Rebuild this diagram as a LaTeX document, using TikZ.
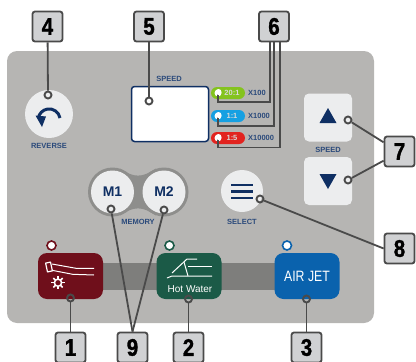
\documentclass[tikz,border=0pt]{standalone}
\usepackage{xcolor}
\usepackage{fontspec}
\setmainfont{Liberation Sans}
\newfontfamily\tagfont[FakeBold=1.6]{Liberation Sans Bold}
\usetikzlibrary{shapes, calc, positioning}
\definecolor{panelgrey}{HTML}{B6B5B3}
\definecolor{bargrey}{HTML}{7E7E7C}
\definecolor{ringgrey}{HTML}{8E8E8C}
\definecolor{keywhite}{HTML}{ECEDEE}
\definecolor{tagfill}{HTML}{D0D1D3}
\definecolor{wiredark}{HTML}{4A4A4A}
\definecolor{inkblue}{HTML}{0F2F63}
\definecolor{labelblue}{HTML}{2B4A7B}
\definecolor{handred}{HTML}{6F0F1B}
\definecolor{waterteal}{HTML}{1B5A47}
\definecolor{airblue}{HTML}{0A62AD}
\definecolor{pillgreen}{HTML}{84C31E}
\definecolor{pillblue}{HTML}{16A0E2}
\definecolor{pillred}{HTML}{E2231F}
\tikzset{
  tagbox/.style={draw=wiredark, fill=tagfill, line width=1.8pt, rounded corners=2.5pt, minimum size=30pt, inner sep=0pt, font=\fontsize{24}{24}\tagfont},
  port/.style={draw=wiredark, circle, line width=1.9pt, minimum size=7pt, inner sep=0pt},
  wire/.style={draw=wiredark, line width=1.8pt},
  small/.style={text=labelblue, inner sep=0pt, font=\fontsize{7.5}{9}\selectfont\bfseries},
  lamp/.style={circle, fill=white, line width=1.6pt, minimum size=9pt, inner sep=0pt},
  key/.style={fill=keywhite, minimum size=48pt, rounded corners=5pt, inner sep=0pt},
  roundkey/.style={circle, fill=keywhite, inner sep=0pt},
  handkey/.style={minimum width=65pt, minimum height=46pt, rounded corners=9pt, inner sep=0pt},
  pill/.style={minimum width=34pt, minimum height=12pt, rounded corners=6pt, inner sep=0pt, text=white!85!black, font=\fontsize{7.5}{9}\selectfont\bfseries},
  dot/.style={circle, fill=white, minimum size=7pt, inner sep=0pt},
  icon/.style={draw=white, line width=1pt, line join=round}
}
\newcommand{\tagnum}[1]{\scalebox{0.85}[1]{#1}}
\begin{document}
\begin{tikzpicture}[x=1pt, y=-1pt]
        \useasboundingbox (0, 0) rectangle (416, 362);
        \fill [panelgrey, rounded corners=10pt] (7, 51) rectangle (374, 323);

        % bottom row
        \fill [bargrey] (100, 263) rectangle (280, 290);
        \node [handkey, fill=handred] (KH) at (70.5, 276) {};
        \node [handkey, fill=waterteal] (KW) at (189, 276) {};
        \node [handkey, fill=airblue, text=white, font=\fontsize{15}{18}\selectfont] (KA) at (307, 276) {\scalebox{0.82}[1]{AIR JET}};
        \node [text=white, inner sep=0pt, font=\fontsize{10}{12}\selectfont] at (190, 289) {Hot Water};
        \node [lamp, draw=handred] (LH) at (51.5, 245.5) {};
        \node [lamp, draw=waterteal] (LW) at (169.5, 245.5) {};
        \node [lamp, draw=airblue] (LA) at (287, 245.5) {};

        % handpiece icon
        \draw [icon, line width=1.2pt, rotate around={12:(49, 267)}] (46.5, 262.5) rectangle (51.5, 271.5);
        \draw [icon] (52, 264) -- (76, 268.3) -- (94, 268.3);
        \draw [icon] (52, 270.3) -- (72.7, 274.3) -- (94, 275);
        \draw [icon, line width=1.5pt] (58, 282.7) circle (3.6);
        \foreach \a in {0, 45, ..., 315}
            \draw [icon, line width=1.5pt] ($(58, 282.7)+(\a:3.6)$) -- ($(58, 282.7)+(\a:6.6)$);

        % water icon
        \draw [icon] (167, 278) -- (172, 276) -- (212, 276);
        \draw [icon] (172, 273) -- (187, 259) -- (197, 259);
        \draw [icon] (184, 262) -- (188, 276);
        \draw [icon] (188, 266) -- (212, 266);

        % reverse
        \node [roundkey, minimum size=48pt] (KR) at (49, 114) {};
        \node [small] at (49, 146) {REVERSE};
        \draw [draw=inkblue, line width=3pt] (60, 118) arc [start angle=-10, end angle=-172, radius=11];
        \fill [inkblue] (35.5, 115.5) -- (46, 116.5) -- (42, 127) -- cycle;

        % display
        \node [small] at (169, 79) {SPEED};
        \node [draw=inkblue, fill=white, line width=1.5pt, rounded corners=3pt, minimum width=77pt, minimum height=55pt, inner sep=0pt] (DS) at (170, 114) {};

        % ratio pills
        \node [pill, fill=pillgreen] (R1) at (228, 93) {\hspace{8pt}20:1};
        \node [pill, fill=pillblue] (R2) at (228, 116) {\hspace{8pt}1:1};
        \node [pill, fill=pillred] (R3) at (228, 138) {\hspace{8pt}1:5};
        \node [small, anchor=west] at (248, 93) {X100};
        \node [small, anchor=west] at (248, 116) {X1000};
        \node [small, anchor=west] at (248, 138) {X10000};

        % speed keys
        \node [key] (KU) at (328, 117.5) {};
        \node [key] (KD) at (328, 181) {};
        \node [small] at (328, 150) {SPEED};
        \fill [inkblue] (328, 108) -- (336.5, 123) -- (319.5, 123) -- cycle;
        \fill [inkblue] (328, 189) -- (336.5, 174) -- (319.5, 174) -- cycle;

        % memory keys
        \fill [ringgrey] (120, 168.5) .. controls (134, 178) and (142, 178) .. (156, 168.5)
            -- (156, 215.5) .. controls (142, 206) and (134, 206) .. (120, 215.5) -- cycle;
        \node [roundkey, fill=ringgrey, minimum size=49pt] at (112.5, 192) {};
        \node [roundkey, fill=ringgrey, minimum size=49pt] at (164, 192) {};
        \node [roundkey, minimum size=43pt, text=inkblue, font=\fontsize{14}{16}\selectfont\bfseries] (M1) at (112.5, 192) {M1};
        \node [roundkey, minimum size=43pt, text=inkblue, font=\fontsize{14}{16}\selectfont\bfseries] (M2) at (164, 192) {M2};
        \node [small] at (138, 222) {MEMORY};

        % select
        \node [roundkey, minimum size=42pt] (KS) at (242, 191) {};
        \node [small] at (242, 222) {SELECT};
        \draw [draw=inkblue, line width=2.5pt] (231, 185) -- (253, 185);
        \draw [draw=inkblue, line width=2.5pt] (231, 191.5) -- (253, 191.5);
        \draw [draw=inkblue, line width=2.5pt] (231, 198) -- (253, 198);

        % numbered tags
        \node [tagbox] (T1) at (70.5, 347.5) {\tagnum{1}};
        \node [tagbox] (T2) at (188.5, 347.5) {\tagnum{2}};
        \node [tagbox] (T3) at (306.5, 347.5) {\tagnum{3}};
        \node [tagbox] (T4) at (47.5, 26.5) {\tagnum{4}};
        \node [tagbox] (T5) at (149, 26.5) {\tagnum{5}};
        \node [tagbox] (T6) at (274, 26.5) {\tagnum{6}};
        \node [tagbox] (T7) at (399.5, 151.5) {\tagnum{7}};
        \node [tagbox] (T8) at (399.5, 248.5) {\tagnum{8}};
        \node [tagbox] (T9) at (132.5, 347.5) {\tagnum{9}};

        % ports
        \node [port] (P1) at (70.5, 298) {};
        \node [port] (P2) at (188.5, 299) {};
        \node [port] (P3) at (306.5, 299) {};
        \node [port] (P4) at (48, 95) {};
        \node [port] (P5) at (149, 101) {};
        \node [port] (P7U) at (348, 120) {};
        \node [port] (P7D) at (348, 180) {};
        \node [port] (P8) at (260, 199) {};
        \node [port] (P9A) at (111, 209) {};
        \node [port] (P9B) at (164, 210) {};

        \draw [wire] (T1) -- (P1);
        \draw [wire] (T2) -- (P2);
        \draw [wire] (T3) -- (P3);
        \draw [wire] (T4) -- (P4);
        \draw [wire] (T5) -- (P5);
        \draw [wire] (T7.150) -- (P7U);
        \draw [wire] (T7.210) -- (P7D);
        \draw [wire] (T8.west) -- (P8);
        \draw [wire] (T9.north) -- (P9A);
        \draw [wire] (T9.north) -- (P9B);

        % ratio wires
        \node [dot] (D1) at (218, 93) {};
        \node [dot] (D2) at (218, 116) {};
        \node [dot] (D3) at (218, 138) {};
        \coordinate (C1) at (270, 102);
        \coordinate (C2) at (274, 126);
        \coordinate (C3) at (280, 147.5);
        \coordinate (W1) at (270, 41);
        \coordinate (W2) at (274, 41);
        \coordinate (W3) at (280, 41);
        \draw [wire] (D1.center) |- (C1) -- (W1);
        \draw [wire] (D2.center) |- (C2) -- (W2);
        \draw [wire] (D3.center) |- (C3) -- (W3);
        \node [dot, minimum size=6pt] (D1T) at (218.5, 92) {};
        \node [dot, minimum size=6pt] (D2T) at (218.5, 115) {};
        \node [dot, minimum size=6pt] (D3T) at (218.5, 137) {};
    \end{tikzpicture}
\end{document}
